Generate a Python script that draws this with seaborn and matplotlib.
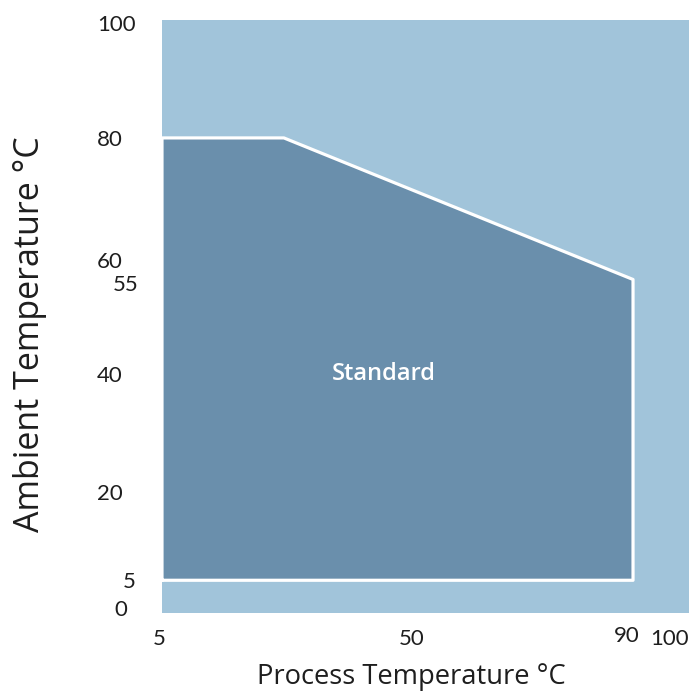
import matplotlib
matplotlib.use("Agg")
import matplotlib.pyplot as plt
import matplotlib.transforms as mtransforms
import seaborn as sns
import pandas as pd

# ---- data ----
process_temp = [5, 5, 27, 90, 90, 5]
ambient_temp = [5, 80, 80, 56, 5, 5]
region_label = "Standard"
region_label_pos = (45, 40)
x_ticks = [5, 50, 90, 100]
x_tick_labels = ["5", "50", "90", "100"]
y_ticks = [0, 5, 20, 40, 55, 60, 80, 100]
y_tick_labels = ["0", "5", "20", "40", "55", "60", "80", "100"]
x_label = "Process Temperature °C"
y_label = "Ambient Temperature °C"

# ---- style ----
sns.set_theme(style="white")
plt.rcParams['font.family'] = ['Lato', 'DejaVu Sans']
bg_color = "#a1c4da"
fill_color = "#6a8fac"
text_color = "#1e1e1e"

fig = plt.figure(figsize=(6.89, 6.91), dpi=100)
ax = fig.add_axes([0.2351, 0.1133, 0.7649, 0.8578])
ax.set_facecolor(bg_color)
for s in ax.spines.values():
    s.set_visible(False)

df = pd.DataFrame({"x": process_temp, "y": ambient_temp})
ax.fill(df["x"], df["y"], color=fill_color, zorder=2, linewidth=0)
sns.lineplot(data=df, x="x", y="y", sort=False, estimator=None, ax=ax,
             color="white", linewidth=2.3, zorder=3)

ax.text(region_label_pos[0], region_label_pos[1], region_label, color="white",
        fontsize=17, fontweight=600, family=["Open Sans", "DejaVu Sans"],
        ha="center", va="center", zorder=4)

ax.set_xlim(5, 100.1)
ax.set_ylim(-0.5, 99.2)

ax.set_xticks(x_ticks)
ax.set_xticklabels(x_tick_labels, fontsize=16, color=text_color)
ax.set_yticks(y_ticks)
ax.set_yticklabels(y_tick_labels, fontsize=16, color=text_color, ha="left")
ax.tick_params(axis="both", length=0)
ax.tick_params(axis="x", pad=12)
ax.tick_params(axis="y", pad=47)

# individual label nudges (pixels)
x_nudge = {"90": (-6, 3), "100": (-19, 0), "5": (-3, 0)}
y_nudge = {"55": (16, 2), "5": (26, 0), "0": (18, 2), "60": (0, -4), "100": (0, -3)}
for lab in ax.get_xticklabels():
    dx, dy = x_nudge.get(lab.get_text(), (0, 0))
    lab.set_transform(lab.get_transform() + mtransforms.ScaledTranslation(dx / 100, dy / 100, fig.dpi_scale_trans))
for lab in ax.get_yticklabels():
    dx, dy = y_nudge.get(lab.get_text(), (0, 0))
    lab.set_transform(lab.get_transform() + mtransforms.ScaledTranslation(dx / 100, dy / 100, fig.dpi_scale_trans))

label_font = ["Open Sans", "DejaVu Sans"]
ax.set_xlabel(x_label, fontsize=19.7, family=label_font, color=text_color, va="center")
ax.xaxis.set_label_coords(0.4725, -0.1085)
ax.set_ylabel(y_label, fontsize=24.5, family=label_font, color=text_color, va="center")
ax.yaxis.set_label_coords(-0.2505, 0.470)

fig.savefig("out.png", dpi=100)
